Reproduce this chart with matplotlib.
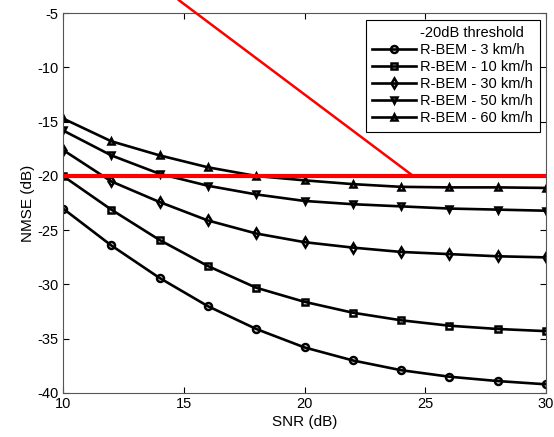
import matplotlib.pyplot as plt
from matplotlib.lines import Line2D

plt.rcParams['font.family'] = ['Liberation Sans', 'DejaVu Sans']
plt.rcParams['axes.unicode_minus'] = False

snr = [10, 12, 14, 16, 18, 20, 22, 24, 26, 28, 30]
nmse_3 = [-23.0, -26.4, -29.4, -32.0, -34.1, -35.8, -37.0, -37.9, -38.5, -38.9, -39.2]
nmse_10 = [-20.0, -23.1, -25.9, -28.3, -30.3, -31.6, -32.6, -33.3, -33.8, -34.1, -34.3]
nmse_30 = [-17.6, -20.5, -22.4, -24.1, -25.3, -26.1, -26.6, -27.0, -27.2, -27.4, -27.5]
nmse_50 = [-15.8, -18.1, -19.8, -20.9, -21.7, -22.3, -22.6, -22.8, -23.0, -23.1, -23.2]
nmse_60 = [-14.7, -16.8, -18.1, -19.2, -20.0, -20.4, -20.75, -21.0, -21.05, -21.05, -21.1]

labels = ['R-BEM - 3 km/h', 'R-BEM - 10 km/h', 'R-BEM - 30 km/h',
          'R-BEM - 50 km/h', 'R-BEM - 60 km/h']
markers = ['o', 's', 'd', 'v', '^']

threshold = -20
diag_x = [14.8, 24.5]
diag_y = [-3.8, -20.0]

fig = plt.figure(figsize=(5.54, 4.37), dpi=100)
ax = fig.add_axes([0.1137, 0.1007, 0.872, 0.869])

handles = [Line2D([], [], color='none', label='-20dB threshold')]
for y, lab, m in zip([nmse_3, nmse_10, nmse_30, nmse_50, nmse_60], labels, markers):
    h, = ax.plot(snr, y, color='black', lw=1.9, marker=m, ms=5,
                 mfc='none', mec='black', mew=1.8, label=lab)
    handles.append(h)

ax.plot([10, 30], [threshold, threshold], color='red', lw=3.0, zorder=3)
ax.plot(diag_x, diag_y, color='red', lw=1.8, clip_on=False, zorder=3)

ax.set_xlim(10, 30)
ax.set_ylim(-40, -5)
ax.set_xticks([10, 15, 20, 25, 30])
ax.set_yticks([-40, -35, -30, -25, -20, -15, -10, -5])
ax.tick_params(direction='in', top=True, right=True, labelsize=10.5, length=4, pad=3)
for s in ax.spines.values():
    s.set_color('#555555')
ax.set_xlabel('SNR (dB)', fontsize=11, labelpad=3)
ax.set_ylabel('NMSE (dB)', fontsize=11, labelpad=2)

leg = ax.legend(handles=handles, loc='upper right', fontsize=10.5, handlelength=3.0,
                handletextpad=0.3, borderpad=0.45, labelspacing=0.2,
                fancybox=False, framealpha=1, edgecolor='black',
                borderaxespad=0.45)
leg.get_frame().set_linewidth(0.8)

fig.savefig('out.png', dpi=100)
